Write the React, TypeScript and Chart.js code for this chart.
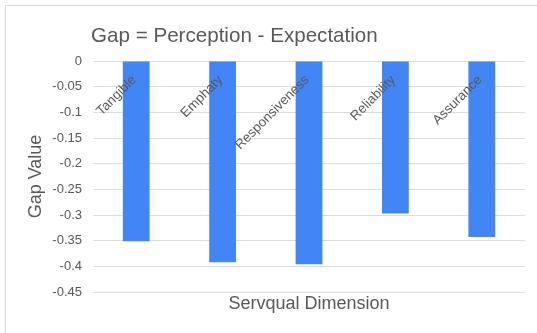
import React, { useEffect, useRef } from "react";
import { Chart, registerables } from "chart.js";

Chart.register(...registerables);

const categories = ["Tangible", "Emphaty", "Responsiveness", "Reliability", "Assurance"];
const gapValues = [-0.351, -0.392, -0.396, -0.297, -0.343];
const yTicks = [0, -0.05, -0.1, -0.15, -0.2, -0.25, -0.3, -0.35, -0.4, -0.45];

const chartTitle = "Gap = Perception - Expectation";
const xTitle = "Servqual Dimension";
const yTitle = "Gap Value";

const FONT = "'Liberation Sans', Arial, sans-serif";
const TEXT = "#595959";
const GRID = "#dcdcdc";
const BAR = "#4285f4";

// Title drawn left-aligned with the plot area
const titlePlugin = {
  id: "leftTitle",
  afterDraw(chart: any) {
    const { ctx } = chart;
    ctx.save();
    ctx.font = `20.6px ${FONT}`;
    ctx.fillStyle = TEXT;
    ctx.textAlign = "left";
    ctx.textBaseline = "alphabetic";
    ctx.fillText(chartTitle, 91, 42);
    ctx.restore();
  },
};

// Category names drawn slanted just below the zero line, over the bars
const categoryLabelPlugin = {
  id: "slantedCategories",
  afterDatasetsDraw(chart: any) {
    const { ctx } = chart;
    const xs = chart.scales.x;
    const ys = chart.scales.y;
    const y0 = ys.getPixelForValue(0);
    ctx.save();
    ctx.font = `13.4px ${FONT}`;
    ctx.fillStyle = TEXT;
    ctx.textAlign = "right";
    ctx.textBaseline = "middle";
    categories.forEach((name, i) => {
      const cx = xs.getPixelForValue(i);
      ctx.save();
      ctx.translate(cx - 2, y0 + 17);
      ctx.rotate(-Math.PI / 4);
      ctx.fillText(name, 0, 0);
      ctx.restore();
    });
    ctx.restore();
  },
};

export default function App() {
  const canvasRef = useRef<HTMLCanvasElement | null>(null);

  useEffect(() => {
    document.body.style.margin = "0";
    const canvas = canvasRef.current;
    if (!canvas) return;
    const chart = new Chart(canvas, {
      type: "bar",
      data: {
        labels: categories,
        datasets: [
          {
            data: gapValues,
            backgroundColor: BAR,
            borderWidth: 0,
            categoryPercentage: 1,
            barPercentage: 0.31,
          },
        ],
      },
      options: {
        animation: false,
        responsive: false,
        maintainAspectRatio: false,
        layout: { padding: { top: 61, right: 12, left: 0, bottom: 0 } },
        plugins: {
          legend: { display: false },
          title: { display: false },
          tooltip: { enabled: false },
        },
        scales: {
          x: {
            grid: { display: false },
            border: { display: false },
            ticks: { display: false },
            title: {
              display: true,
              text: xTitle,
              color: TEXT,
              font: { family: FONT, size: 18 },
              padding: { top: 0, bottom: 18 },
            },
            afterFit(scale: any) {
              scale.height = 41;
            },
          },
          y: {
            min: -0.45,
            max: 0,
            afterBuildTicks(scale: any) {
              scale.ticks = yTicks.map((v) => ({ value: v }));
            },
            grid: { color: GRID, lineWidth: 1, drawTicks: false },
            border: { display: false },
            ticks: {
              color: TEXT,
              font: { family: FONT, size: 13 },
              padding: 11,
              callback: (v: any) => String(Number(Number(v).toFixed(2))),
            },
            title: {
              display: true,
              text: yTitle,
              color: TEXT,
              font: { family: FONT, size: 18 },
              padding: { top: 25, bottom: 0 },
            },
            afterFit(scale: any) {
              scale.width = 93;
            },
          },
        },
      },
      plugins: [titlePlugin, categoryLabelPlugin],
    });
    return () => chart.destroy();
  }, []);

  return (
    <div style={{ position: "relative", width: 537, height: 333, background: "#fff", overflow: "hidden" }}>
      <div
        style={{
          position: "absolute",
          left: 5,
          top: 5,
          width: 540,
          height: 340,
          borderTop: "1px solid #d9d9d9",
          borderLeft: "1px solid #d9d9d9",
        }}
      />
      <canvas ref={canvasRef} width={537} height={333} style={{ position: "absolute", left: 0, top: 0 }} />
    </div>
  );
}
